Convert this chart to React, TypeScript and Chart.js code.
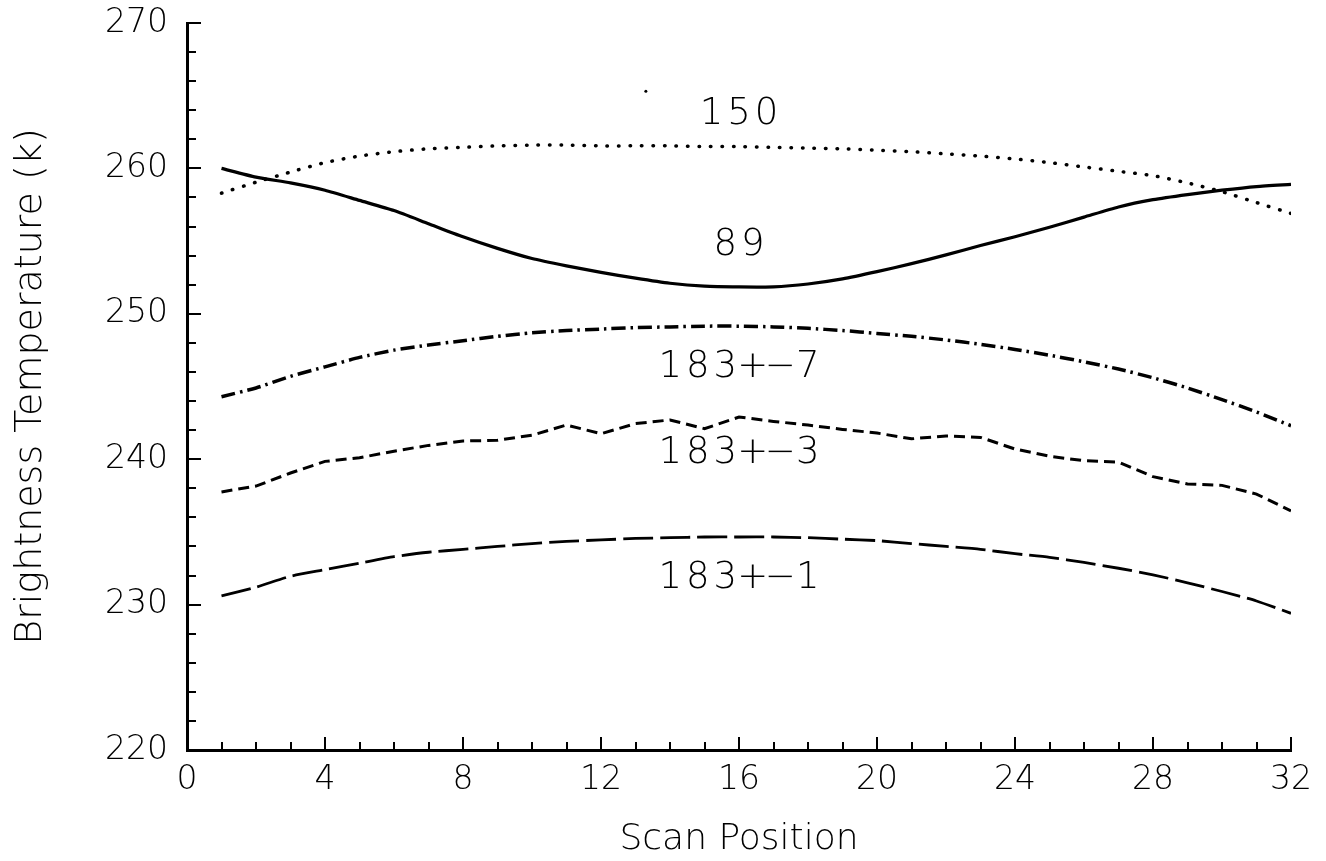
import { useEffect, useRef } from 'react';
import { Chart, registerables } from 'chart.js';

Chart.register(...registerables);

// ---- data ----
const scanPositions = [1, 2, 3, 4, 5, 6, 7, 8, 9, 10, 11, 12, 13, 14, 15, 16, 17, 18, 19, 20, 21, 22, 23, 24, 25, 26, 27, 28, 29, 30, 31, 32];

const tb150 = [258.3, 259.05, 259.75, 260.4, 260.85, 261.15, 261.35, 261.45, 261.55, 261.6, 261.6, 261.55, 261.55, 261.55, 261.5, 261.5, 261.45, 261.4, 261.35, 261.25, 261.15, 261.0, 260.85, 260.65, 260.4, 260.1, 259.8, 259.5, 259.0, 258.4, 257.65, 256.9];
const tb89 = [260.0, 259.4, 259.0, 258.5, 257.8, 257.1, 256.2, 255.3, 254.5, 253.8, 253.3, 252.85, 252.45, 252.1, 251.9, 251.85, 251.85, 252.05, 252.4, 252.9, 253.45, 254.05, 254.7, 255.3, 255.95, 256.65, 257.35, 257.85, 258.2, 258.5, 258.75, 258.9];
const tb183p7 = [244.3, 244.9, 245.7, 246.35, 247.0, 247.5, 247.85, 248.15, 248.45, 248.7, 248.85, 248.95, 249.05, 249.1, 249.15, 249.15, 249.1, 249.0, 248.85, 248.65, 248.45, 248.2, 247.9, 247.55, 247.15, 246.7, 246.2, 245.6, 244.9, 244.1, 243.25, 242.3];
const tb183p3 = [237.75, 238.15, 239.05, 239.85, 240.1, 240.55, 240.95, 241.25, 241.3, 241.65, 242.35, 241.75, 242.45, 242.7, 242.1, 242.9, 242.6, 242.35, 242.05, 241.8, 241.4, 241.6, 241.5, 240.7, 240.2, 239.9, 239.8, 238.8, 238.3, 238.2, 237.6, 236.45];
const tb183p1 = [230.6, 231.2, 231.95, 232.4, 232.85, 233.3, 233.6, 233.8, 234.0, 234.2, 234.35, 234.45, 234.55, 234.6, 234.65, 234.65, 234.65, 234.6, 234.5, 234.4, 234.2, 234.0, 233.8, 233.5, 233.25, 232.9, 232.5, 232.05, 231.5, 230.9, 230.25, 229.4];

// small stray speck visible in the scanned original
const speckX = [13.3];
const speckY = [265.3];

const curveLabelTexts = ['150', '89', '183+-7', '183+-3', '183+-1'];
const curveLabelX = [16, 16, 16, 16, 16];
const curveLabelY = [263.95, 255.0, 246.6, 240.65, 232.1];

const xTitle = 'Scan Position';
const yTitle = 'Brightness Temperature (k)';

const X_MIN = 0, X_MAX = 32, X_MAJOR = 4, X_MINOR = 1;
const Y_MIN = 220, Y_MAX = 270, Y_MAJOR = 10, Y_MINOR = 2;

const FONT = 'DejaVu Sans';
const WEIGHT = '200';

const inwardTicks = {
  id: 'inwardTicks',
  afterDraw(chart: any) {
    const { ctx, scales } = chart;
    const xs = scales.x, ys = scales.y;
    const bottom = ys.getPixelForValue(Y_MIN);
    const left = xs.getPixelForValue(X_MIN);
    ctx.save();
    ctx.strokeStyle = '#000';
    ctx.lineWidth = 2;
    ctx.beginPath();
    for (let v = X_MIN + X_MINOR; v <= X_MAX; v += X_MINOR) {
      const px = Math.round(xs.getPixelForValue(v));
      const len = v % X_MAJOR === 0 ? 13 : 8;
      ctx.moveTo(px, bottom);
      ctx.lineTo(px, bottom - len);
    }
    for (let v = Y_MIN + Y_MINOR; v <= Y_MAX; v += Y_MINOR) {
      const py = Math.round(ys.getPixelForValue(v));
      const len = v % Y_MAJOR === 0 ? 14 : 9;
      ctx.moveTo(left, py);
      ctx.lineTo(left + len, py);
    }
    ctx.stroke();
    ctx.restore();
  },
};

const curveLabels = {
  id: 'curveLabels',
  afterDatasetsDraw(chart: any) {
    const { ctx, scales } = chart;
    ctx.save();
    ctx.fillStyle = '#000';
    ctx.font = `${WEIGHT} 37px "${FONT}"`;
    ctx.textAlign = 'center';
    ctx.textBaseline = 'alphabetic';
    const pitch = 27.5;
    curveLabelTexts.forEach((t, i) => {
      const cx = scales.x.getPixelForValue(curveLabelX[i]);
      const cy = scales.y.getPixelForValue(curveLabelY[i]);
      const n = t.length;
      for (let k = 0; k < n; k++) {
        const ch = t[k] === '-' ? '\u2212' : t[k];
        const px = cx + (k - (n - 1) / 2) * pitch;
        ctx.fillText(ch, px, cy + 13.5);
      }
    });
    ctx.restore();
  },
};

export default function App() {
  const ref = useRef<HTMLCanvasElement>(null);
  useEffect(() => {
    if (!ref.current) return;
    const mk = (arr: number[]) => scanPositions.map((x, i) => ({ x, y: arr[i] }));
    const base = { pointRadius: 0, borderColor: '#000', fill: false, tension: 0.2 };
    const chart = new Chart(ref.current, {
      type: 'line',
      data: {
        datasets: [
          { ...base, label: '150', data: mk(tb150), borderWidth: 3.5, borderDash: [0.5, 11], borderCapStyle: 'round' },
          { ...base, label: '89', data: mk(tb89), borderWidth: 3.2 },
          { ...base, label: '183+-7', data: mk(tb183p7), borderWidth: 3.5, borderDash: [14, 5, 2.5, 5] },
          { ...base, label: '183+-3', data: mk(tb183p3), borderWidth: 3, borderDash: [11, 6], tension: 0 },
          { ...base, label: '183+-1', data: mk(tb183p1), borderWidth: 2.8, borderDash: [30, 7] },
          {
            label: 'speck',
            data: speckX.map((x, i) => ({ x, y: speckY[i] })),
            showLine: false,
            pointRadius: 1.5,
            pointBackgroundColor: '#000',
            pointBorderWidth: 0,
            borderColor: '#000',
          },
        ] as any,
      },
      options: {
        responsive: false,
        animation: false,
        layout: { padding: { left: 0, right: 35, top: 23, bottom: 0 } },
        plugins: { legend: { display: false }, tooltip: { enabled: false } },
        scales: {
          x: {
            type: 'linear',
            min: X_MIN,
            max: X_MAX,
            afterFit: (s: any) => { s.height = 111; s.paddingRight = 0; s.paddingLeft = 0; },
            ticks: { stepSize: X_MAJOR, color: '#000', font: { family: FONT, size: 33, weight: WEIGHT }, padding: 11, maxRotation: 0 },
            grid: { drawOnChartArea: false, drawTicks: false },
            border: { display: true, color: '#000', width: 3 },
            title: { display: true, text: xTitle, color: '#000', font: { family: FONT, size: 36, weight: WEIGHT }, padding: { top: 0, bottom: 0 } },
          },
          y: {
            type: 'linear',
            min: Y_MIN,
            max: Y_MAX,
            afterFit: (s: any) => { s.width = 187; s.paddingTop = 0; s.paddingBottom = 0; },
            ticks: { stepSize: Y_MAJOR, color: '#000', font: { family: FONT, size: 33, weight: WEIGHT }, padding: 19 },
            grid: { drawOnChartArea: false, drawTicks: false },
            border: { display: true, color: '#000', width: 3 },
            title: { display: true, text: yTitle, color: '#000', font: { family: FONT, size: 38, weight: WEIGHT }, padding: { top: 8, bottom: 0 } },
          },
        },
      } as any,
      plugins: [inwardTicks, curveLabels],
    });
    return () => chart.destroy();
  }, []);
  return (
    <div style={{ position: 'fixed', left: 0, top: 0, width: 1326, height: 861, background: '#fff' }}>
      <canvas ref={ref} width={1326} height={861} />
    </div>
  );
}
